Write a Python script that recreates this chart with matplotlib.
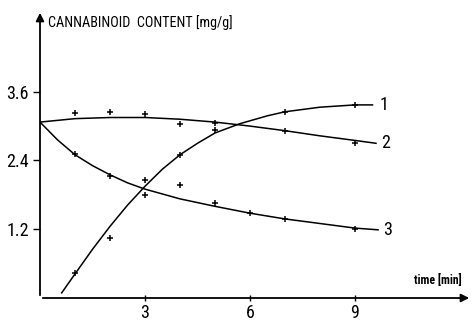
import matplotlib.pyplot as plt
from matplotlib import font_manager

# Measured points (time in min, content in mg/g)
pts1_t = [1, 2, 3, 4, 5, 7, 9]
pts1_y = [0.44, 1.05, 1.80, 2.50, 2.93, 3.25, 3.37]
pts2_t = [1, 2, 3, 4, 5, 7, 9]
pts2_y = [3.23, 3.25, 3.21, 3.04, 3.05, 2.91, 2.71]
pts3_t = [1, 2, 3, 4, 5, 6, 7, 9]
pts3_y = [2.51, 2.13, 2.06, 1.97, 1.66, 1.48, 1.38, 1.20]

# Fitted curves
curve1_t = [0.62, 1.0, 1.5, 2.0, 2.5, 3.0, 3.5, 4.0, 4.5, 5.0, 5.7, 6.5, 7.0, 8.0, 9.0, 9.5]
curve1_y = [0.09, 0.42, 0.85, 1.25, 1.62, 1.95, 2.25, 2.50, 2.70, 2.88, 3.04, 3.18, 3.25, 3.33, 3.37, 3.37]
curve2_t = [0, 1, 2, 3, 4, 5, 6, 7, 8, 9, 9.6]
curve2_y = [3.07, 3.13, 3.15, 3.15, 3.12, 3.07, 3.00, 2.92, 2.83, 2.75, 2.70]
curve3_t = [0, 0.5, 1, 1.5, 2, 2.5, 3, 4, 5, 6, 7, 8, 9, 9.66]
curve3_y = [3.07, 2.76, 2.50, 2.31, 2.15, 2.01, 1.90, 1.73, 1.60, 1.48, 1.38, 1.30, 1.22, 1.19]

xticks = [3, 6, 9]
yticks = [1.2, 2.4, 3.6]
ylabels = ["1.2", "2.4", "3.6"]

# pick a condensed face if one is installed
names = {f.name for f in font_manager.fontManager.ttflist}
NARROW = "DejaVu Sans"
for cand in ["Liberation Sans Narrow", "DejaVu Sans Condensed", "Roboto Condensed", "Open Sans Condensed"]:
    if cand in names:
        NARROW = cand
        break

fig = plt.figure(figsize=(4.74, 3.22), dpi=100)
ax = fig.add_axes([40 / 474, 24 / 322, 432 / 474, 288 / 322])
ax.set_xlim(0, 432 / 35)
ax.set_ylim(0, 288 / 57.3)

for t, y in [(curve1_t, curve1_y), (curve2_t, curve2_y), (curve3_t, curve3_y)]:
    ax.plot(t, y, color="black", lw=1.1)
for t, y in [(pts1_t, pts1_y), (pts2_t, pts2_y), (pts3_t, pts3_y)]:
    ax.plot(t, y, ls="none", marker="+", ms=5, mew=1.1, color="black")

# curve numbers
ax.text(curve1_t[-1] + 0.2, curve1_y[-1], "1", fontsize=13, family=NARROW, va="center", ha="left")
ax.text(curve2_t[-1] + 0.15, curve2_y[-1], "2", fontsize=13, family=NARROW, va="center", ha="left")
ax.text(curve3_t[-1] + 0.15, curve3_y[-1], "3", fontsize=13, family=NARROW, va="center", ha="left")

# axes as arrows
for s in ["top", "right", "left", "bottom"]:
    ax.spines[s].set_visible(False)
ax.annotate("", xy=(1.0, 0), xytext=(0, 0), xycoords="axes fraction",
            arrowprops=dict(arrowstyle="-|>", color="black", lw=1.3, mutation_scale=12))
ax.annotate("", xy=(0, 1.0), xytext=(0, 0), xycoords="axes fraction",
            arrowprops=dict(arrowstyle="-|>", color="black", lw=1.3, mutation_scale=12))

ax.set_xticks(xticks)
ax.set_xticklabels([str(v) for v in xticks], fontsize=13, family=NARROW)
ax.set_yticks(yticks)
ax.set_yticklabels(ylabels, fontsize=13, family=NARROW)
ax.tick_params(axis="x", direction="inout", length=5, width=1, pad=2)
ax.tick_params(axis="y", direction="out", length=5, width=1, pad=3)

ax.text(0.018, 0.955, "CANNABINOID  CONTENT [mg/g]", transform=ax.transAxes,
        fontsize=10.2, family=NARROW, va="center", ha="left")
ax.text(11.37, 0.2, "time [min]", fontsize=8.5, fontweight="bold",
        family=NARROW, ha="center", va="bottom")

plt.savefig("out.png", dpi=100)
